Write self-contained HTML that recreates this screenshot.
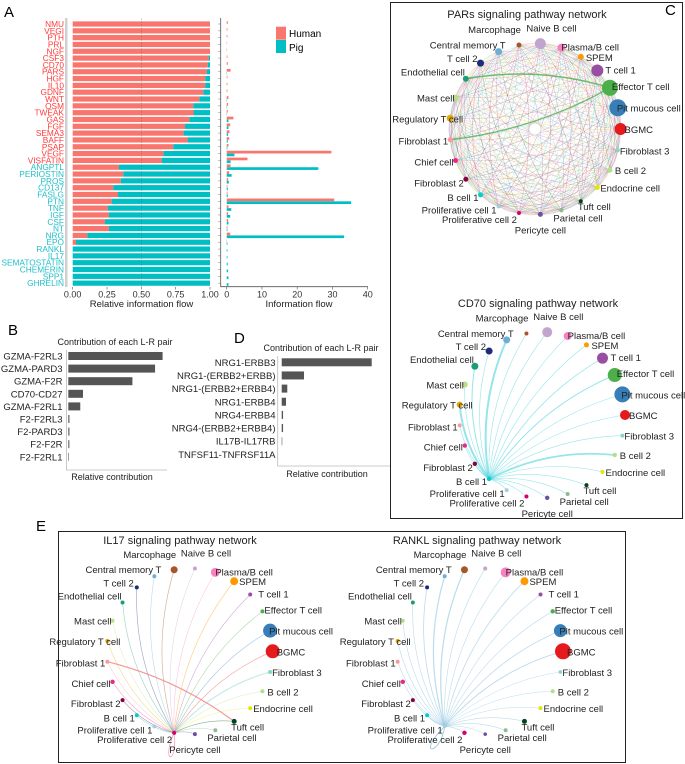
<!DOCTYPE html>
<html><head><meta charset="utf-8">
<style>
html,body{margin:0;padding:0;background:#fff;}
svg{display:block;font-family:"Liberation Sans",Arial,sans-serif;}
</style></head>
<body>
<svg id="fig" width="685" height="764" viewBox="0 0 685 764" xmlns="http://www.w3.org/2000/svg">
  <g id="panelA"></g>
  <g id="panelB"></g>
  <g id="panelD"></g>
  <g id="panelC"></g>
  <g id="panelE"></g>
</svg>
<script>
// ---------- Panel A data ----------
const pathways = ["NMU","VEGI","PTH","PRL","NGF","CSF3","CD70","PARS","HGF","IL10","GDNF","WNT","OSM","TWEAK","GAS","FGF","SEMA3","BAFF","PSAP","VEGF","VISFATIN","ANGPTL","PERIOSTIN","PROS","CD137","FASLG","PTN","TNF","IGF","CSF","NT","NRG","EPO","RANKL","IL17","SEMATOSTATIN","CHEMERIN","SPP1","GHRELIN"];
const humanFraction = [1,1,1,1,1,.99,.984,.977,.965,.965,.951,.922,.878,.88,.85,.818,.808,.837,.733,.66,.648,.337,.368,.35,.296,.33,.284,.255,.264,.235,.264,.106,.024,0,0,0,0,0,0];
const humanFlow = [.3,.2,.2,.1,.1,.2,.3,1.1,.2,.2,.2,.5,.4,.3,1.9,1.0,.8,.7,.5,29.7,5.9,1.1,.7,.4,.2,.2,30.5,.5,.4,.4,.2,1.0,.1,0,0,0,0,0,0];
const pigFlow = [0,0,0,0,0,0,0,.1,0,0,0,.1,.1,.1,.5,.5,.4,.3,.2,2.2,1.1,26,1.4,.6,.3,.3,35.3,1.3,1.0,.5,.2,33.3,.2,.2,.2,.3,.4,.5,.5];
const relTicks = ["0.00","0.25","0.50","0.75","1.00"];
const flowTicks = [0,10,20,30,40];
// ---------- Panel B / D data ----------
const bPairs = ["GZMA-F2RL3","GZMA-PARD3","GZMA-F2R","CD70-CD27","GZMA-F2RL1","F2-F2RL3","F2-PARD3","F2-F2R","F2-F2RL1"];
const bValues = [1.0,0.92,0.68,0.156,0.127,0.012,0.012,0.011,0.006];
const dPairs = ["NRG1-ERBB3","NRG1-(ERBB2+ERBB)","NRG1-(ERBB2+ERBB4)","NRG1-ERBB4","NRG4-ERBB4","NRG4-(ERBB2+ERBB4)","IL17B-IL17RB","TNFSF11-TNFRSF11A"];
const dValues = [1.0,0.248,0.062,0.048,0.015,0.015,0.006,0];
// ---------- Network data ----------
const cells = ["Marcophage","Naive B cell","Plasma/B cell","SPEM","T cell 1","Effector T cell","Pit mucous cell","BGMC","Fibroblast 3","B cell 2","Endocrine cell","Tuft cell","Parietal cell","Pericyte cell","Proliferative cell 2","Proliferative cell 1","B cell 1","Fibroblast 2","Chief cell","Fibroblast 1","Regulatory T cell","Mast cell","Endothelial cell","T cell 2","Central memory T"];
const cellColors = ["#a6562a","#c2a5cf","#f781bf","#ff9900","#984ea3","#4daf4a","#377eb8","#e41a1c","#8dd3c7","#b2df8a","#e6e600","#00441b","#8fbc8f","#6a51a3","#d6006e","#a6cee3","#00ced1","#8b0040","#e7298a","#fb9a99","#e6ab02","#b8e186","#1b9e77","#1f2a7a","#6baed6"];
const parsSizes = [2.5,5.5,4,3,6,8,8.5,6,2,2.5,2.5,2,2,2.5,2,2,2.5,2.5,2.5,2.5,3.5,3,3,3.5,3.5];
const cd70Sizes = [2,5,4,2.5,5.5,7,8,5,2,2.2,2,2,2,2.2,2,2,2.2,2.2,2.2,2,3,3,3.5,3.5,3.5];
const il17Sizes = [3.5,2,4.5,4,2,2,7,7,2,2,2,2.5,2,2,2,2,2,2,2.2,2,2,2,2,2,2];
const ranklSizes = [3.5,2,5,4,2,2.2,6.5,8,1.8,2,2,2.5,2,1.8,2.2,1.8,2,2,2.2,2,2,2,2,2,2];
const cd70Weights = [0.6,0.6,0.6,0.6,0.8,1.0,0.6,0.6,0.6,1.8,0.6,0.6,0.6,0.6,0.6,0.6,0,0.6,0.6,0.6,2,0.6,1.0,0.6,2];
const il17Weights = [0.7,0.6,0.6,0.7,0.6,0.6,0.6,0.6,1.2,0.6,0.6,0.6,0.6,0.6,0,0.6,0.6,0.6,0.6,0.6,0.6,0.6,0.6,0.6,0.6];
const ranklWeights = [1.2,0.6,0.6,0.8,0.6,0.6,0.8,1.0,0.5,0.5,0.5,0.6,0.6,0.6,0.6,0,0.6,0.6,0.6,0.6,0.6,0.6,0.6,0.8,1.2];

const NS="http://www.w3.org/2000/svg";
function mk(parent,tag,attrs,text){const e=document.createElementNS(NS,tag);for(const k in attrs)e.setAttribute(k,attrs[k]);if(text!==undefined)e.textContent=text;parent.appendChild(e);return e;}

// ---------- Panel A ----------
(function(){
  const g=document.getElementById('panelA');
  let t=mk(g,'text',{x:4,y:17,'font-size':15});t.textContent='A';
  
  const rowY=i=>24+i*6.82;
  const relX=v=>72.7+v*137.3;
  const flowX=v=>226.7+v*3.525;
  let r=mk(g,'rect',{x:65,y:18,width:2.5,height:269,fill:'#d0d0d0'});
  
  pathways.forEach((p,i)=>{
    const y=rowY(i),f=humanFraction[i];
    let h=mk(g,'rect',{x:relX(0),y:y-2.6,width:relX(f)-relX(0),height:5.2,fill:'#f8766d'});
    
    let pg=mk(g,'rect',{x:relX(f),y:y-2.6,width:relX(1)-relX(f),height:5.2,fill:'#00bfc4'});
    
    let l=mk(g,'text',{x:64,y:y+3,'font-size':8.3,'text-anchor':'end',fill:f>0.5?'#ff3a3a':'#21c0c8'},p);
    
    mk(g,'line',{x1:218,x2:220.7,y1:y,y2:y,stroke:'#999','stroke-width':0.6});
    let hf=mk(g,'rect',{x:flowX(0),y:y-2.8,width:Math.max(flowX(humanFlow[i])-flowX(0),0),height:2.7,fill:'#f8766d'});
    
    let pf=mk(g,'rect',{x:flowX(0),y:y,width:Math.max(flowX(pigFlow[i])-flowX(0),0),height:2.7,fill:'#00bfc4'});
    
  });
  mk(g,'line',{x1:relX(0.5),x2:relX(0.5),y1:18,y2:287,stroke:'#555','stroke-width':0.5,'stroke-dasharray':'2,1','opacity':0.5});
  let ax2=mk(g,'path',{d:'M220.7,18 V286.7 H368',fill:'none',stroke:'#555','stroke-width':0.8});
  
  relTicks.forEach((tk,i)=>{const x=relX(i*0.25);
    mk(g,'line',{x1:x,x2:x,y1:287,y2:289.5,stroke:'#555','stroke-width':0.6});
    let tt=mk(g,'text',{x:x,y:297.5,'font-size':9,'text-anchor':'middle',fill:'#333'},tk);
    });
  flowTicks.forEach(v=>{const x=flowX(v);
    mk(g,'line',{x1:x,x2:x,y1:286.7,y2:289.5,stroke:'#555','stroke-width':0.6});
    let tt=mk(g,'text',{x:x,y:297.5,'font-size':9,'text-anchor':'middle',fill:'#333'},String(v));
    });
  let at=mk(g,'text',{x:141.5,y:307,'font-size':9.5,'text-anchor':'middle',fill:'#222'},'Relative information flow');
  
  let ft=mk(g,'text',{x:299,y:307,'font-size':9.5,'text-anchor':'middle',fill:'#222'},'Information flow');
  
  let s1=mk(g,'rect',{x:276,y:26.7,width:10,height:13,fill:'#f8766d'});
  
  let s2=mk(g,'rect',{x:276,y:40,width:10,height:13,fill:'#00bfc4'});
  
  let l1=mk(g,'text',{x:289,y:37,'font-size':10},'Human');
  
  let l2=mk(g,'text',{x:289,y:51,'font-size':10},'Pig');
  
})();

// ---------- Panels B & D ----------
function contribPanel(gid,letter,lx,ly,pairs,vals,o){
  const g=document.getElementById(gid);
  let t=mk(g,'text',{x:lx,y:ly,'font-size':15},letter);
  
  let ti=mk(g,'text',{x:o.tx,y:o.ty,'font-size':9,'text-anchor':'middle',fill:'#222'},'Contribution of each L-R pair');
  
  const y=i=>o.y0+i*o.dy;const x=v=>o.x0+v*o.w;
  pairs.forEach((p,i)=>{
    let b=mk(g,'rect',{x:x(0),y:y(i)-4,width:Math.max(x(vals[i])-x(0),0),height:8,fill:'#555'});
    
    let l=mk(g,'text',{x:o.lx,y:y(i)+3.5,'font-size':9.5,'text-anchor':'end',fill:'#222'},p);
    
  });
  let ax=mk(g,'path',{d:`M${o.ax},${o.ay0} V${o.ay1} H${o.ax1}`,fill:'none',stroke:'#bbb','stroke-width':0.8});
  
  let xt=mk(g,'text',{x:o.xtx,y:o.xty,'font-size':9,'text-anchor':'middle',fill:'#222'},'Relative contribution');
  
}
contribPanel('panelB','B',8,335,bPairs,bValues,{tx:115,ty:345,y0:356,dy:12.6,x0:68.3,w:94.3,lx:62.5,ax:66.5,ay0:350,ay1:470,ax1:167,xtx:112,xty:480});
contribPanel('panelD','D',234,343,dPairs,dValues,{tx:321,ty:351,y0:362.3,dy:13.15,x0:281.7,w:90,lx:275.5,ax:277.7,ay0:356,ay1:466,ax1:390,xtx:327,xty:477});

// ---------- Networks ----------
function network(g,cx,cy,R,sizes,title,tx,ty){
  const pos=cells.map((c,i)=>{const a=(-100.8+i*14.4)*Math.PI/180;return [cx+R*Math.cos(a),cy+R*Math.sin(a)];});
  let tt=mk(g,'text',{x:tx,y:ty,'font-size':11,'text-anchor':'middle',fill:'#222'},title);
  
  const edges=mk(g,'g',{});
  const nodes=mk(g,'g',{});
  const labels=mk(g,'g',{});
  const off=[[2,-12,'end'],[-14,-12,'start'],[0,3,'start'],[5,4,'start'],[8,3,'start'],[2,2,'start'],[-1,4,'start'],[4,4,'start'],[2,4,'start'],[5,4,'start'],[3,4,'start'],[-3,9,'start'],[-8,11,'start'],[0,19,'middle'],[-2,10,'end'],[-2,7,'end'],[-2,6,'end'],[-2,7,'end'],[-2,5,'end'],[-2,5,'end'],[13,4,'end'],[-1,4,'end'],[-1,-3,'end'],[-3,-1,'end'],[7,-3,'end']];
  cells.forEach((c,i)=>{
    const [x,y]=pos[i];
    let n=mk(nodes,'circle',{cx:x,cy:y,r:sizes[i],fill:cellColors[i]});
    
    
    let l=mk(labels,'text',{x:x+off[i][0],y:y+off[i][1],'font-size':9.5,'text-anchor':off[i][2],fill:'#222'},c);
    
    
  });
  return {pos,edges};
}
function curve(p,q,k){const dx=q[0]-p[0],dy=q[1]-p[1];const mx=(p[0]+q[0])/2+dy*k,my=(p[1]+q[1])/2-dx*k;return `M${p[0]},${p[1]} Q${mx},${my} ${q[0]},${q[1]}`;}

// C box
(function(){
  const g=document.getElementById('panelC');
  let t=mk(g,'text',{x:665,y:15,'font-size':15},'C');
  
  let b=mk(g,'rect',{x:390.5,y:2.5,width:292,height:516,fill:'none',stroke:'#222','stroke-width':1});
  
  const pars=mk(g,'g',{});
  const A=network(pars,535,129,85.5,parsSizes,'PARs signaling pathway network',527,18);
  for(let i=0;i<cells.length;i++)for(let j=i+1;j<cells.length;j++){
    let e=mk(A.edges,'path',{d:curve(A.pos[i],A.pos[j],0.12),fill:'none',stroke:cellColors[(i+j)%cells.length],'stroke-width':0.5,opacity:0.35});
    
  }
  mk(A.edges,'path',{d:curve(A.pos[5],A.pos[22],-0.12),fill:'none',stroke:'#4daf4a','stroke-width':1.5,opacity:0.8});
  mk(A.edges,'path',{d:curve(A.pos[5],A.pos[19],0.1),fill:'none',stroke:'#4daf4a','stroke-width':1.3,opacity:0.8});
  mk(A.edges,'circle',{cx:535,cy:129,r:6,fill:'#fff',stroke:'#ccc','stroke-width':0.6});
  const cd=mk(g,'g',{});
  const B=network(cd,542,415,83,cd70Sizes,'CD70 signaling pathway network',538,307);
  cells.forEach((c,j)=>{if(cd70Weights[j]<=0)return;
    let e=mk(B.edges,'path',{d:curve(B.pos[16],B.pos[j],0.15),fill:'none',stroke:'#40d0d8','stroke-width':cd70Weights[j],opacity:0.55});
    });
})();

// E box
(function(){
  const g=document.getElementById('panelE');
  let t=mk(g,'text',{x:36,y:531,'font-size':15},'E');
  
  let b=mk(g,'rect',{x:58.5,y:531.5,width:567,height:231,fill:'none',stroke:'#222','stroke-width':1});
  
  const il=mk(g,'g',{});
  const A=network(il,189.7,651.3,83,il17Sizes,'IL17 signaling pathway network',180,544);
  cells.forEach((c,j)=>{if(il17Weights[j]<=0)return;
    let e=mk(A.edges,'path',{d:curve(A.pos[14],A.pos[j],0.15),fill:'none',stroke:cellColors[j],'stroke-width':il17Weights[j],opacity:0.45});
    });
  mk(A.edges,'path',{d:curve(A.pos[19],A.pos[11],0.1),fill:'none',stroke:'#f28080','stroke-width':1.2,opacity:0.8});
  mk(A.edges,'path',{d:`M${A.pos[14][0]},${A.pos[14][1]} C${A.pos[14][0]-14},${A.pos[14][1]+32} ${A.pos[14][0]+4},${A.pos[14][1]+32} ${A.pos[14][0]},${A.pos[14][1]}`,fill:'none',stroke:'#f4a0c0','stroke-width':0.8});
  const rk=mk(g,'g',{});
  const B=network(rk,480,651.3,83,ranklSizes,'RANKL signaling pathway network',477,544);
  cells.forEach((c,j)=>{if(ranklWeights[j]<=0)return;
    let e=mk(B.edges,'path',{d:curve(B.pos[15],B.pos[j],0.15),fill:'none',stroke:'#8ec4e0','stroke-width':ranklWeights[j],opacity:0.6});
    });
  mk(B.edges,'path',{d:`M${B.pos[15][0]},${B.pos[15][1]} C${B.pos[15][0]-30},${B.pos[15][1]+30} ${B.pos[15][0]-4},${B.pos[15][1]+30} ${B.pos[15][0]},${B.pos[15][1]}`,fill:'none',stroke:'#8ec4e0','stroke-width':0.8});
})();
</script>
</body></html>
